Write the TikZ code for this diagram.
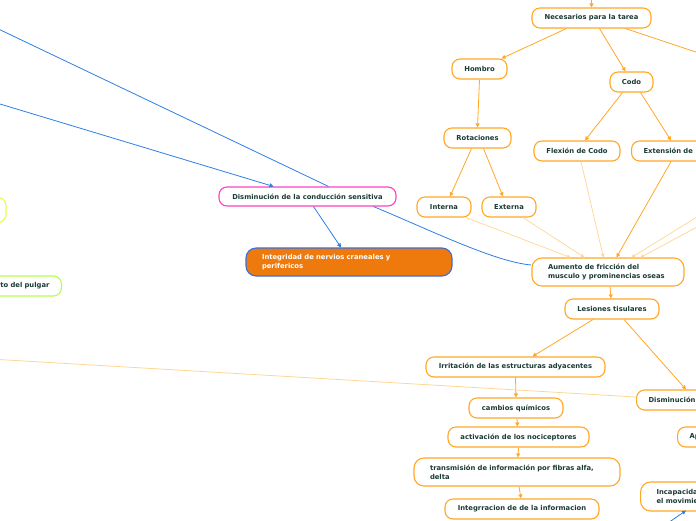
\documentclass[tikz,border=0pt]{standalone}
\usepackage{fontspec}
\setmainfont{DejaVu Sans}
\usetikzlibrary{arrows.meta,calc}
\definecolor{ora}{HTML}{FFA726}
\definecolor{oral}{HTML}{FFD593}
\definecolor{txt}{HTML}{1B3B36}
\definecolor{pinkb}{HTML}{FF40C0}
\definecolor{blu}{HTML}{2D7FE6}
\definecolor{blub}{HTML}{3A6FE0}
\definecolor{fillo}{HTML}{EE7A0E}
\definecolor{yel}{HTML}{E8FF3A}
\definecolor{grn}{HTML}{B4FF4A}
\begin{document}
\begin{tikzpicture}[x=1pt,y=-1pt,
  box/.style={draw=ora, line width=1.1pt, rounded corners=8pt, fill=white, text=txt,
    font=\fontsize{6.8}{9}\selectfont\bfseries, minimum height=20pt, inner sep=0pt},
  lbox/.style={box, align=left, inner xsep=16pt, inner ysep=0pt, rounded corners=10pt},
  cbox/.style={box, align=left, inner xsep=12pt, text width=80pt, anchor=west},
  arr/.style={draw=ora, line width=0.8pt, -{Triangle[length=4pt,width=4pt]}},
  larr/.style={draw=oral, line width=0.7pt, -{Triangle[length=3.5pt,width=3.5pt]}},
  lline/.style={draw=oral, line width=0.8pt},
  oline/.style={draw=ora, line width=0.8pt},
  barr/.style={draw=blu, line width=0.8pt, -{Triangle[length=4pt,width=4pt]}},
  bline/.style={draw=blu, line width=0.8pt}
]
\useasboundingbox (0,0) rectangle (696,520);
\clip (0,0) rectangle (696,520);

% nodes
\node[box, minimum width=119pt] (nec) at (591.5,18) {Necesarios para la tarea};
\node[box, minimum width=55pt] (hom) at (479.5,69) {Hombro};
\node[box, minimum width=43pt] (codo) at (631.5,82) {Codo};
\node[box, minimum width=67pt] (rot) at (477.5,138) {Rotaciones};
\node[box, minimum width=86pt] (flex) at (577,151) {Flexión de Codo};
\node[cbox] (exts) at (631,151) {Extensión de};
\node[box, minimum width=54pt] (int) at (444,207) {Interna};
\node[box, minimum width=54pt] (ext) at (509,207) {Externa};
\node[box, draw=pinkb, minimum width=177pt, minimum height=19pt] (dcs) at (307.5,196.5) {Disminución de la conducción sensitiva};
\node[lbox, draw=blub, fill=fillo, text=white, text width=174pt, minimum height=28pt] (integ) at (349,262) {Integridad de nervios craneales y\\perifericos};
\node[lbox, text width=120pt, minimum height=28pt] (aum) at (608,272) {Aumento de fricción del\\musculo y prominencias oseas};
\node[box, minimum width=94pt] (les) at (612,309) {Lesiones tisulares};
\node[box, minimum width=179pt] (irr) at (515.5,367) {Irritación de las estructuras adyacentes};
\node[cbox] (dism) at (636,400) {Disminución};
\node[box, minimum width=94pt] (camb) at (516,408) {cambios químicos};
\node[box, minimum width=141pt] (act) at (518.5,437) {activación de los nociceptores};
\node[cbox] (ap) at (677,437) {Ap};
\node[lbox, text width=174pt, minimum height=28pt] (trans) at (517,472) {transmisión de información por fibras alfa,\\delta};
\node[cbox, inner xsep=16pt, minimum height=29pt, rounded corners=10pt] (incap) at (640,496.5) {Incapacida\\el movimie};
\node[box, minimum width=154pt] (integr) at (522,509) {Integrracion de de la informacion};
\node[box, draw=yel, minimum width=60pt, minimum height=25pt, anchor=east] (yl) at (6.5,210) {};
\node[box, draw=grn, text width=80pt, align=right, inner xsep=12pt, anchor=east] (pulg) at (62,286) {to del pulgar};

% off-canvas coordinates
\coordinate (top) at (591.5,-5);
\coordinate (offr) at (720,60);
\coordinate (r1) at (710,209);
\coordinate (r2) at (710,220);
\coordinate (l1) at (-10,25);
\coordinate (l2) at (-10,101);
\coordinate (l3) at (-10,359);
\coordinate (b1) at (665,525);

% orange connectors
\draw[arr] (top) -- (nec.north);
\draw[arr] ($(nec.south)+(-25,0)$) -- ($(hom.north)+(22,0)$);
\draw[arr] ($(nec.south)+(8,0)$) -- ($(codo.north)+(-6,0)$);
\draw[oline] ($(nec.south)+(34,0)$) -- (offr);
\draw[arr] (hom.south) -- (rot.north);
\draw[arr] ($(codo.south)+(-9,0)$) -- ($(flex.north)+(8,0)$);
\draw[arr] ($(codo.south)+(9,0)$) -- ($(exts.north west)+(40,0)$);
\draw[arr] ($(rot.south)+(-6,0)$) -- ($(int.north)+(6,0)$);
\draw[arr] ($(rot.south)+(6,0)$) -- ($(ext.north)+(-6,0)$);
\draw[larr] ($(int.south)+(22,0)$) -- ($(aum.north west)+(39,0)$);
\draw[larr] ($(ext.south)+(14,0)$) -- ($(aum.north west)+(53,0)$);
\draw[larr] ($(flex.south)+(4,0)$) -- ($(aum.north west)+(72,0)$);
\draw[arr] ($(exts.south west)+(40,0)$) -- ($(aum.north west)+(85,0)$);
\draw[larr] (r1) -- ($(aum.north west)+(100,0)$);
\draw[larr] (r2) -- ($(aum.north west)+(109,0)$);
\draw[arr] ($(aum.south)+(2,0)$) -- ($(les.north)+(-1,0)$);
\draw[arr] ($(les.south)+(-19,0)$) -- ($(irr.north)+(17,0)$);
\draw[arr] ($(les.south)+(12,0)$) -- ($(dism.north west)+(50,0)$);
\draw[arr] (irr.south) -- (camb.north);
\draw[arr] ($(camb.south)+(1,0)$) -- ($(act.north)+(-1,0)$);
\draw[arr] (act.south) -- ($(trans.north)+(1,0)$);
\draw[arr] ($(trans.south)+(2,0)$) -- ($(integr.north)+(-1,0)$);
\draw[lline] (l3) -- ($(dism.west)+(0,-3)$);

% blue connectors
\draw[bline] (l1) -- ($(dcs.north)+(21,0)$);
\draw[barr] (l2) -- ($(dcs.north)+(-34,0)$);
\draw[barr] ($(dcs.south)+(6,0)$) -- ($(integ.north)+(-8,0)$);
\draw[bline] ($(dcs.south)+(66,0)$) .. controls (430,230) and (495,262) .. ($(aum.west)+(0,-7)$);
\draw[barr] (b1) -- ($(incap.south west)+(46,-1)$);
\end{tikzpicture}
\end{document}
